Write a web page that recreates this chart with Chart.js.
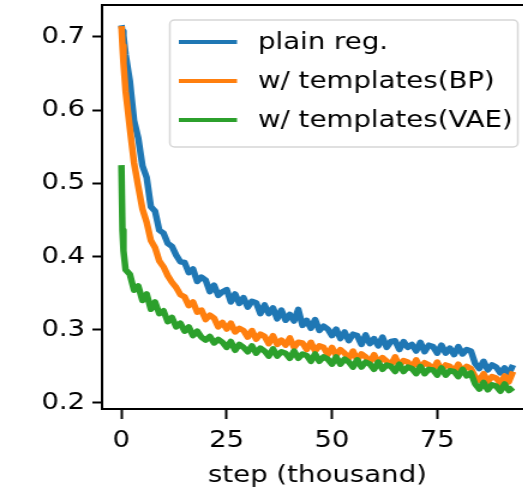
<!DOCTYPE html>
<html>
<head>
<meta charset="utf-8">
<script src="https://cdn.jsdelivr.net/npm/chart.js@4.4.1/dist/chart.umd.min.js"></script>
<style>
  html, body { margin: 0; padding: 0; background: #fff; width: 523px; height: 495px; overflow: hidden; }
  #wrap { width: 446px; height: 495px; transform: scaleX(1.2); transform-origin: 0 0; }
</style>
</head>
<body>
<div id="wrap"><canvas id="c" width="446" height="495"></canvas></div>
<script>
// ---- data (steps in thousands) ----
const steps = [0, 0.25, 0.5, 1, 2, 3, 4, 5, 6, 7, 8, 9, 10, 11, 12, 13, 14, 15, 16, 17, 18, 19, 20,
  21, 22, 23, 24, 25, 26, 27, 28, 29, 30, 31, 32, 33, 34, 35, 36, 37, 38, 39, 40,
  41, 42, 43, 44, 45, 46, 47, 48, 49, 50, 51, 52, 53, 54, 55, 56, 57, 58, 59, 60,
  61, 62, 63, 64, 65, 66, 67, 68, 69, 70, 71, 72, 73, 74, 75, 76, 77, 78, 79, 80,
  81, 82, 83, 84, 85, 86, 87, 88, 89, 90, 91, 92, 93];

const plainReg = [0.716, 0.708, 0.702, 0.676, 0.640, 0.586, 0.562, 0.524, 0.508, 0.468, 0.462, 0.436, 0.432,
  0.418, 0.414, 0.402, 0.393, 0.392, 0.378, 0.383, 0.366, 0.372, 0.368,
  0.352, 0.361, 0.347, 0.352, 0.355, 0.338, 0.349, 0.336, 0.344, 0.331,
  0.339, 0.337, 0.322, 0.334, 0.322, 0.330, 0.315, 0.327, 0.313, 0.321,
  0.312, 0.328, 0.306, 0.313, 0.302, 0.314, 0.299, 0.305, 0.301, 0.292,
  0.301, 0.288, 0.297, 0.285, 0.294, 0.292, 0.280, 0.293, 0.281, 0.288,
  0.278, 0.290, 0.276, 0.284, 0.285, 0.273, 0.284, 0.276, 0.280, 0.271,
  0.283, 0.270, 0.279, 0.277, 0.268, 0.279, 0.268, 0.275, 0.266, 0.277,
  0.267, 0.273, 0.271, 0.254, 0.247, 0.257, 0.245, 0.252, 0.249, 0.241,
  0.248, 0.240, 0.252];

const templatesBP = [0.715, 0.688, 0.664, 0.626, 0.576, 0.528, 0.496, 0.465, 0.447, 0.422, 0.412, 0.394, 0.386,
  0.374, 0.365, 0.358, 0.348, 0.345, 0.333, 0.338, 0.324, 0.327, 0.314,
  0.320, 0.316, 0.304, 0.310, 0.301, 0.309, 0.297, 0.302, 0.299, 0.290,
  0.299, 0.287, 0.294, 0.291, 0.281, 0.292, 0.280, 0.286, 0.279, 0.289,
  0.276, 0.283, 0.282, 0.273, 0.283, 0.271, 0.278, 0.276, 0.266, 0.276,
  0.265, 0.273, 0.268, 0.261, 0.271, 0.259, 0.267, 0.263, 0.256, 0.266,
  0.255, 0.262, 0.257, 0.252, 0.263, 0.251, 0.258, 0.256, 0.248, 0.259,
  0.248, 0.255, 0.252, 0.246, 0.256, 0.245, 0.252, 0.250, 0.243, 0.253,
  0.243, 0.250, 0.247, 0.236, 0.231, 0.240, 0.229, 0.236, 0.234, 0.227,
  0.237, 0.229, 0.243];

const templatesVAE = [0.525, 0.436, 0.408, 0.382, 0.376, 0.354, 0.360, 0.340, 0.349, 0.328, 0.338, 0.322, 0.326,
  0.311, 0.317, 0.304, 0.309, 0.298, 0.304, 0.292, 0.298, 0.290, 0.286,
  0.291, 0.282, 0.287, 0.283, 0.276, 0.284, 0.272, 0.280, 0.276, 0.270,
  0.278, 0.268, 0.275, 0.271, 0.264, 0.274, 0.264, 0.270, 0.268, 0.261,
  0.271, 0.261, 0.267, 0.265, 0.257, 0.267, 0.257, 0.263, 0.260, 0.253,
  0.263, 0.253, 0.260, 0.256, 0.249, 0.259, 0.249, 0.256, 0.253, 0.246,
  0.256, 0.246, 0.252, 0.250, 0.243, 0.253, 0.243, 0.249, 0.247, 0.240,
  0.250, 0.240, 0.246, 0.245, 0.238, 0.248, 0.238, 0.244, 0.243, 0.236,
  0.246, 0.237, 0.241, 0.226, 0.219, 0.228, 0.218, 0.225, 0.223, 0.216,
  0.226, 0.217, 0.221];

const seriesLabels = ['plain reg.', 'w/ templates(BP)', 'w/ templates(VAE)'];
const xTicks = [0, 25, 50, 75];
const yTicks = [0.2, 0.3, 0.4, 0.5, 0.6, 0.7];
const xTitle = 'step (thousand)';

const colors = ['#1f77b4', '#ff7f0e', '#2ca02c'];
const FONT = "'DejaVu Sans'";
const FS = 23;

const toXY = (vals) => vals.map((v, i) => ({ x: steps[i], y: v }));

const frame = {
  id: 'frame',
  afterDraw(chart) {
    const { ctx, chartArea: a } = chart;
    ctx.save();
    ctx.strokeStyle = '#000';
    ctx.lineWidth = 2;
    ctx.beginPath();
    ctx.moveTo(a.left - 1, a.top);
    ctx.lineTo(a.right + 1, a.top);
    ctx.moveTo(a.right, a.top);
    ctx.lineTo(a.right, a.bottom);
    ctx.stroke();

    // legend
    const bx = 141.5, by = 20, bw = 290, bh = 127, r = 4;
    ctx.fillStyle = 'rgba(255,255,255,0.8)';
    ctx.strokeStyle = '#d6d6d6';
    ctx.lineWidth = 1.5;
    ctx.beginPath();
    ctx.roundRect(bx, by, bw, bh, r);
    ctx.fill();
    ctx.stroke();
    const rows = [42, 81, 120];
    ctx.font = FS + 'px ' + FONT;
    ctx.textBaseline = 'middle';
    ctx.textAlign = 'left';
    chart.data.datasets.forEach((ds, i) => {
      ctx.strokeStyle = ds.borderColor;
      ctx.lineWidth = 4;
      ctx.beginPath();
      ctx.moveTo(149, rows[i]);
      ctx.lineTo(197.5, rows[i]);
      ctx.stroke();
      ctx.fillStyle = '#000';
      ctx.fillText(ds.label, 215, rows[i] + 1);
    });
    ctx.restore();
  }
};

Chart.defaults.color = '#000';
Chart.defaults.font.family = FONT;
Chart.defaults.font.size = FS;

new Chart(document.getElementById('c'), {
  type: 'line',
  data: {
    datasets: [
      { label: seriesLabels[0], data: toXY(plainReg), borderColor: colors[0], order: 3 },
      { label: seriesLabels[1], data: toXY(templatesBP), borderColor: colors[1], order: 2 },
      { label: seriesLabels[2], data: toXY(templatesVAE), borderColor: colors[2], order: 1 }
    ].map(d => Object.assign(d, { borderWidth: 5.5, pointRadius: 0, tension: 0, fill: false, borderJoinStyle: 'round', borderCapStyle: 'butt' }))
  },
  options: {
    responsive: false,
    animation: false,
    events: [],
    layout: { padding: { top: 5, right: 2, left: 0, bottom: 0 } },
    plugins: { legend: { display: false }, tooltip: { enabled: false } },
    scales: {
      x: {
        type: 'linear',
        min: -4.6, max: 97.7,
        afterBuildTicks: (s) => { s.ticks = xTicks.map(v => ({ value: v })); },
        afterFit: (s) => { s.height = 86; s.paddingLeft = 0; s.paddingRight = 0; },
        grid: { drawOnChartArea: false, drawTicks: true, tickLength: 10, tickWidth: 2, tickColor: '#000' },
        border: { display: true, color: '#000', width: 2 },
        ticks: { padding: 8, maxRotation: 0, autoSkip: false, font: { size: FS } },
        title: { display: true, text: xTitle, font: { size: FS }, padding: { top: 0, bottom: 5 } }
      },
      y: {
        type: 'linear',
        min: 0.1918, max: 0.7437,
        afterBuildTicks: (s) => { s.ticks = yTicks.map(v => ({ value: v })); },
        afterFit: (s) => { s.width = 85; s.paddingTop = 0; s.paddingBottom = 0; },
        grid: { drawOnChartArea: false, drawTicks: true, tickLength: 8, tickWidth: 2, tickColor: '#000' },
        border: { display: true, color: '#000', width: 2 },
        ticks: { padding: 6, autoSkip: false, font: { size: FS }, callback: (v) => v.toFixed(1) }
      }
    }
  },
  plugins: [frame]
});
</script>
</body>
</html>
